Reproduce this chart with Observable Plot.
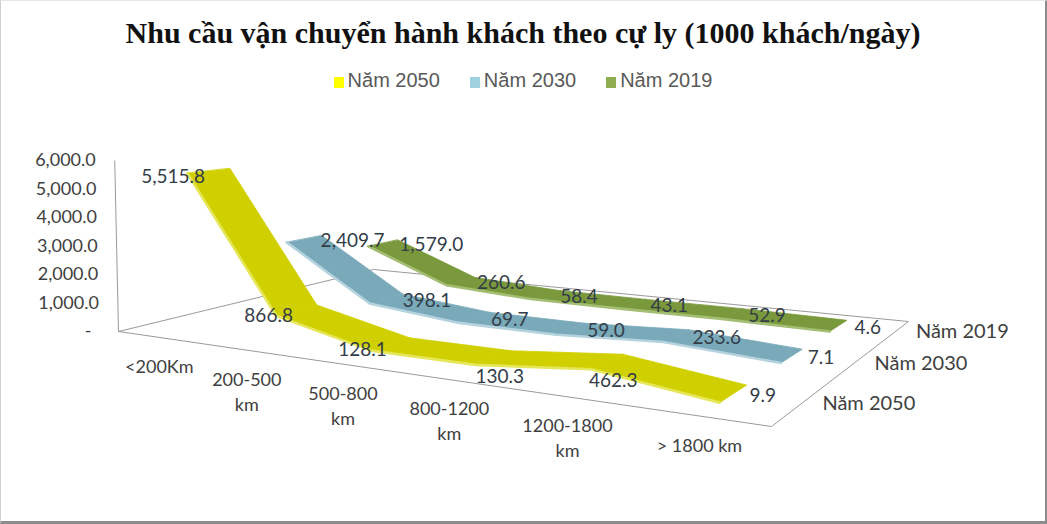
<!DOCTYPE html>
<html>
<head>
<meta charset="utf-8">
<script src="https://cdn.jsdelivr.net/npm/d3@7"></script>
<script src="https://cdn.jsdelivr.net/npm/@observablehq/plot@0.6"></script>
<style>
  html, body { margin: 0; padding: 0; background: #fff; }
  #frame { position: relative; width: 1047px; height: 524px; box-sizing: border-box;
    border-left: 1px solid #cfcfcf; border-top: 1px solid #e6e6e6;
    border-right: 2px solid #8c8c8c; border-bottom: 3px solid #8c8c8c; overflow: hidden; background: #fff; }
  #title { position: absolute; top: 15px; left: 0; width: 100%; text-align: center;
    font-family: "Liberation Serif", "Times New Roman", serif; font-weight: bold; font-size: 30px; color: #111; }
  #legend { position: absolute; top: 68px; left: 0; width: 100%; display: flex; justify-content: center; gap: 30px;
    font-family: "Liberation Sans", Arial, sans-serif; font-size: 20px; color: #595959; }
  #legend .item { display: flex; align-items: center; }
  #legend .sw { width: 10px; height: 11px; margin-right: 4px; margin-top: 3px; }
  #chart { position: absolute; left: 0; top: 100px; }
</style>
</head>
<body>
<div id="frame">
  <div id="title"></div>
  <div id="legend"></div>
  <div id="chart"></div>
</div>
<script>
// ---------- data ----------
const chartTitle = "Nhu cầu vận chuyển hành khách theo cự ly (1000 khách/ngày)";
const categories = ["<200Km", "200-500\nkm", "500-800\nkm", "800-1200\nkm", "1200-1800\nkm", "> 1800 km"];
const seriesNames = ["Năm 2050", "Năm 2030", "Năm 2019"];   // front -> back
const values2050 = [5515.8, 866.8, 128.1, 130.3, 462.3, 9.9];
const values2030 = [2409.7, 398.1, 69.7, 59.0, 233.6, 7.1];
const values2019 = [1579.0, 260.6, 58.4, 43.1, 52.9, 4.6];
const yTicks = [0, 1000, 2000, 3000, 4000, 5000, 6000];
const ribbonColors = ["#d0d000", "#7aa9ba", "#7a993d"];
const edgeColors = ["#e6e65a", "#b4d3de", "#a3bd72"];
const legendColors = ["#ffff00", "#9fd0de", "#8fae4f"];

const seriesValues = [values2050, values2030, values2019];

// ---------- title & legend ----------
document.getElementById("title").textContent = chartTitle;
const legendEl = document.getElementById("legend");
seriesNames.forEach((name, s) => {
  const it = document.createElement("div"); it.className = "item";
  const sw = document.createElement("div"); sw.className = "sw"; sw.style.background = legendColors[s];
  const tx = document.createElement("span"); tx.textContent = name;
  it.appendChild(sw); it.appendChild(tx); legendEl.appendChild(it);
});

// ---------- 3D perspective projection (floor quad -> homography) ----------
const W = 1044, H = 420, TOP = 100;
const FL = [[117, 330], [770, 425], [907, 320], [372, 268]]; // floor corners: front-left, front-right, back-right, back-left
function makeHomography(P) {
  const [[x0, y0], [x1, y1], [x2, y2], [x3, y3]] = P;
  const dx1 = x1 - x2, dx2 = x3 - x2, dx3 = x0 - x1 + x2 - x3;
  const dy1 = y1 - y2, dy2 = y3 - y2, dy3 = y0 - y1 + y2 - y3;
  const den = dx1 * dy2 - dx2 * dy1;
  const g = (dx3 * dy2 - dx2 * dy3) / den;
  const h = (dx1 * dy3 - dx3 * dy1) / den;
  return { a: x1 - x0 + g * x1, b: x3 - x0 + h * x3, c: x0,
           d: y1 - y0 + g * y1, e: y3 - y0 + h * y3, f: y0, g, h };
}
const HG = makeHomography(FL);
const KY = 171 / 6000;   // px per unit at the front-left corner
function proj(u, w, v) {
  const D = HG.g * u + HG.h * w + 1;
  const x = (HG.a * u + HG.b * w + HG.c) / D;
  const yf = (HG.d * u + HG.e * w + HG.f) / D;
  const hp = KY * v / D;
  return [x + (x - 560) * hp * 5e-5, yf - hp - TOP];
}
const nCat = categories.length;
const uOf = i => (i + 0.5) / nCat;
const bandCenter = s => 0.17 + 0.35 * s;
const bandHalf = 0.072;

// ---------- derived rows ----------
const ribbonRows = seriesValues.map((vals, s) => {
  const rows = [];
  const w1 = bandCenter(s) - bandHalf, w2 = bandCenter(s) + bandHalf;
  for (let i = 0; i < nCat - 1; i++) {
    const pts = [[uOf(i), w1, vals[i]], [uOf(i + 1), w1, vals[i + 1]], [uOf(i + 1), w2, vals[i + 1]], [uOf(i), w2, vals[i]]];
    pts.forEach(([u, w, v], k) => { const [x, y] = proj(u, w, v); rows.push({ seg: i, k, x, y }); });
  }
  return rows;
});
const edgeRows = seriesValues.map((vals, s) => {
  const w1 = bandCenter(s) - bandHalf;
  return vals.map((v, i) => { const [x, y] = proj(uOf(i), w1, v); return { x, y }; });
});

const floorUW = [[0, 0], [1, 0], [1, 1], [0, 1]];
const floorEdges = floorUW.map((p, k) => {
  const q = floorUW[(k + 1) % 4];
  const A = proj(p[0], p[1], 0), B = proj(q[0], q[1], 0);
  return { x1: A[0], y1: A[1], x2: B[0], y2: B[1] };
});
const yMax = d3.max(yTicks);
const axisLine = [(() => { const A = proj(0, 0, 0), B = proj(0, 0, yMax); return { x1: A[0], y1: A[1], x2: B[0], y2: B[1] }; })()];
const fmt = d3.format(",.1f");
const tickRows = yTicks.map(t => { const [x, y] = proj(0, 0, t); return { x, y, label: t === 0 ? "-" : fmt(t), zero: t === 0 }; });

const catRows = categories.map((c, i) => { const [x, y] = proj(uOf(i), 0, 0); return { x, y, label: c }; });
const seriesLabelRows = seriesNames.map((n, s) => { const [x, y] = proj(1, bandCenter(s) - 0.003, 0); return { x, y, label: n }; });

// data labels: back series to the right of the point; front series to the left on steep parts, below on flat parts
const dataLabelRows = [];
seriesValues.forEach((vals, s) => vals.forEach((v, i) => {
  const [x, y] = proj(uOf(i), bandCenter(s), v);
  let pos = "right";
  if (s === 0 && i < nCat - 1) {
    const dPrev = i > 0 ? Math.abs(vals[i] - vals[i - 1]) : 0;
    const dNext = Math.abs(vals[i + 1] - vals[i]);
    pos = Math.max(dPrev, dNext) > 500 ? "left" : "below";
  }
  dataLabelRows.push({ x, y, label: fmt(v), pos });
}));

// ---------- plot ----------
const labelFont = "Lato, 'Open Sans', sans-serif";
const labelFill = "#333d48";
const marks = [
  Plot.link(floorEdges, { x1: "x1", y1: "y1", x2: "x2", y2: "y2", stroke: "#9a9a9a", strokeWidth: 1 }),
  Plot.link(axisLine, { x1: "x1", y1: "y1", x2: "x2", y2: "y2", stroke: "#9a9a9a", strokeWidth: 1 })
];
[2, 1, 0].forEach(s => {
  marks.push(Plot.line(ribbonRows[s], { x: "x", y: "y", z: "seg", curve: "linear-closed",
    fill: ribbonColors[s], stroke: ribbonColors[s], strokeWidth: 0.8 }));
  marks.push(Plot.line(edgeRows[s], { x: "x", y: "y", stroke: edgeColors[s], strokeWidth: 2.6 }));
});
marks.push(
  Plot.text(tickRows.filter(d => !d.zero), { x: "x", y: "y", text: "label", textAnchor: "end", dx: -19,
    fontSize: 18, fontFamily: labelFont, fill: "#404040" }),
  Plot.text(tickRows.filter(d => d.zero), { x: "x", y: "y", text: "label", textAnchor: "end", dx: -27,
    fontSize: 18, fontFamily: labelFont, fill: "#404040" }),
  Plot.text(catRows, { x: "x", y: "y", text: "label", lineAnchor: "top", dy: 18, lineHeight: 1.38,
    fontSize: 18, fontFamily: labelFont, fill: "#404040" }),
  Plot.text(seriesLabelRows, { x: "x", y: "y", text: "label", textAnchor: "start", dx: 21,
    fontSize: 20, fontFamily: labelFont, fill: "#404040" }),
  Plot.text(dataLabelRows.filter(d => d.pos === "right"), { x: "x", y: "y", text: "label", textAnchor: "start", dx: 16, dy: 2,
    fontSize: 19, fontFamily: labelFont, fill: labelFill }),
  Plot.text(dataLabelRows.filter(d => d.pos === "left"), { x: "x", y: "y", text: "label", textAnchor: "end", dx: -4, dy: 6,
    fontSize: 19, fontFamily: labelFont, fill: labelFill }),
  Plot.text(dataLabelRows.filter(d => d.pos === "below"), { x: "x", y: "y", text: "label", textAnchor: "middle", dx: 6, dy: 19,
    fontSize: 19, fontFamily: labelFont, fill: labelFill })
);

const chart = Plot.plot({
  width: W, height: H, margin: 0,
  x: { type: "identity", axis: null },
  y: { type: "identity", axis: null },
  style: { background: "transparent", overflow: "visible" },
  marks
});
document.getElementById("chart").appendChild(chart);
</script>
</body>
</html>
